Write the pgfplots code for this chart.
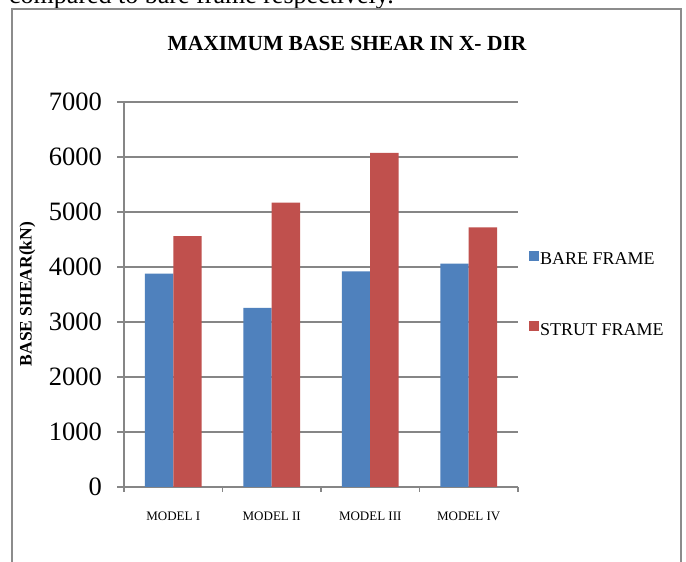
\documentclass[border=0pt]{standalone}
\usepackage{fontspec}
\setmainfont{Liberation Serif}
\usepackage{pgfplots}
\pgfplotsset{compat=1.18}
\definecolor{barblue}{HTML}{4F81BD}
\definecolor{barred}{HTML}{C0504D}
\definecolor{axgray}{HTML}{868686}
\definecolor{framegray}{HTML}{8C8C8C}
\begin{document}
\begin{tikzpicture}[x=1pt,y=1pt]
\useasboundingbox (0,0) rectangle (686,562);
\clip (0,0) rectangle (686,562);
\fill[white] (0,0) rectangle (686,562);
% page text cut at the top
\node[anchor=base west, inner sep=0pt, font=\fontsize{26}{26}\selectfont] at (9,558) {compared to bare frame respectively.};
% chart frame
\draw[framegray, line width=2pt] (12,-5) -- (12,553) -- (681,553) -- (681,-5);
% title
\node[font=\fontsize{21.5}{21.5}\selectfont\bfseries] at (347,519) {MAXIMUM BASE SHEAR IN X- DIR};
% y label
\node[rotate=90, font=\fontsize{17.5}{17.5}\selectfont\bfseries] at (27.5,268) {BASE SHEAR(kN)};
\begin{axis}[
  at={(124pt,75pt)}, anchor=south west,
  width=394pt, height=385pt, scale only axis,
  xmin=-0.5, xmax=3.5, ymin=0, ymax=7000,
  ybar=0pt, bar width=28.3pt,
  axis x line*=bottom, axis y line*=left,
  axis line style={axgray, line width=1.5pt, -},
  xtick={0,1,2,3},
  xticklabels={MODEL I, MODEL II, MODEL III, MODEL IV},
  minor xtick={-0.5,0.5,1.5,2.5,3.5},
  major x tick style={draw=none},
  minor x tick style={axgray, line width=1.2pt},
  minor tick length=5pt,
  ytick={0,1000,...,7000},
  major y tick style={axgray, line width=1.2pt},
  major tick length=7pt,
  tick align=outside,
  ymajorgrids,
  grid style={axgray, line width=1.5pt},
  /pgf/number format/assume math mode=true,
  /pgf/number format/set thousands separator={},
  yticklabel style={font=\fontsize{26.5}{26.5}\selectfont, inner sep=0pt, xshift=-15pt},
  xticklabel style={font=\fontsize{13}{13}\selectfont, inner sep=0pt, yshift=-18pt},
  legend style={draw=none, fill=none, at={(1.028,0.5)}, anchor=west,
    font=\fontsize{18}{18}\selectfont, row sep=54pt, inner sep=0pt,
    nodes={inner sep=1pt}},
  legend cell align=left,
  legend image code/.code={\fill[#1] (0pt,-1pt) rectangle (10pt,9pt);},
]
\addplot[fill=barblue, draw=none] coordinates {(0,3880) (1,3255) (2,3920) (3,4060)};
\addplot[fill=barred, draw=none] coordinates {(0,4560) (1,5170) (2,6075) (3,4720)};
\legend{BARE FRAME, STRUT FRAME}
\end{axis}
\end{tikzpicture}
\end{document}
